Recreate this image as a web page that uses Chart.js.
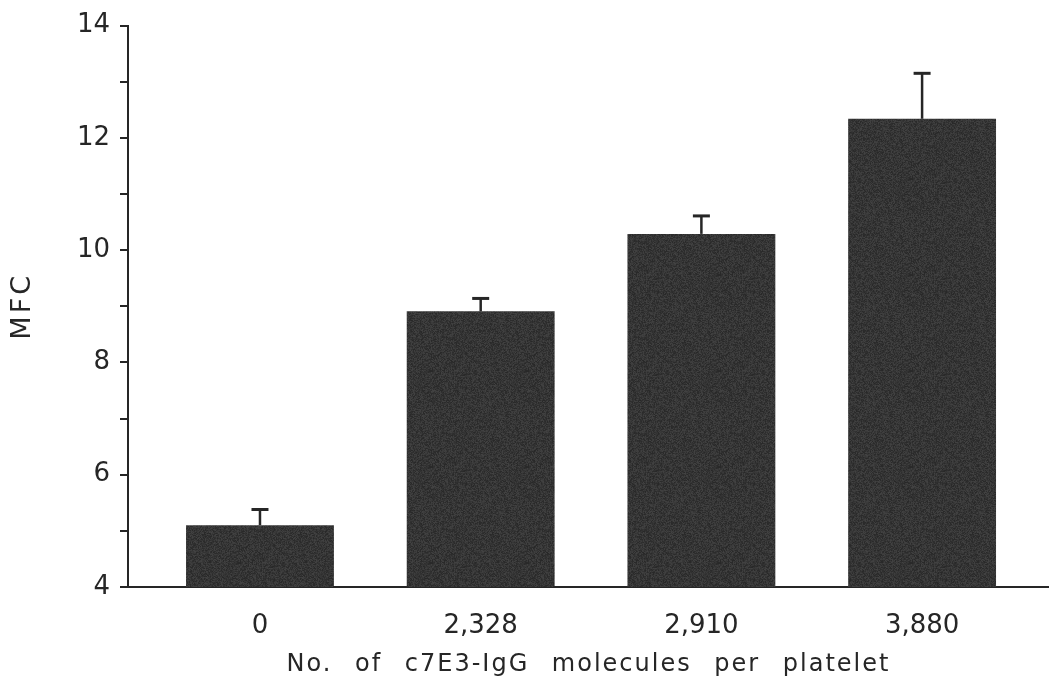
<!DOCTYPE html>
<html><head><meta charset="utf-8">
<script src="https://cdn.jsdelivr.net/npm/chart.js@4"></script>
<style>html,body{margin:0;padding:0;background:#fff;} #wrap{width:1049px;height:681px;position:relative;}</style>
</head><body><div id="wrap"><canvas id="c"></canvas></div>
<script>
const categories = ['0', '2,328', '2,910', '3,880'];
const meanMFC = [5.10, 8.91, 10.29, 12.34];
const errorMFC = [0.28, 0.23, 0.32, 0.81];
const yTickLabels = [4, 6, 8, 10, 12, 14];
const xTitle = 'No. of c7E3-IgG molecules per platelet';
const yTitle = 'MFC';

const FONT = '"DejaVu Sans", sans-serif';
const INK = '#262626';

// speckled dark fill (deterministic texture, style only)
function makeTexture() {
  const c = document.createElement('canvas');
  c.width = 96; c.height = 96;
  const g = c.getContext('2d');
  const img = g.createImageData(96, 96);
  for (let i = 0; i < 96 * 96; i++) {
    const h = Math.sin(i * 12.9898 + (i % 96) * 78.233) * 43758.5453;
    const f = h - Math.floor(h);
    const v = Math.round(40 + f * 26);
    img.data[i * 4] = v; img.data[i * 4 + 1] = v; img.data[i * 4 + 2] = v; img.data[i * 4 + 3] = 255;
  }
  g.putImageData(img, 0, 0);
  return g.createPattern(c, 'repeat');
}
const barFill = makeTexture();

function spacedTitle(letter, word) {
  return s => {
    if (s._spaced) return;
    const orig = s.drawTitle.bind(s);
    s.drawTitle = function (...a) {
      this.ctx.save();
      this.ctx.letterSpacing = letter;
      this.ctx.wordSpacing = word;
      orig(...a);
      this.ctx.restore();
    };
    s._spaced = true;
  };
}

const errorBars = {
  id: 'errorBars',
  afterDatasetsDraw(chart) {
    const ctx = chart.ctx;
    const ys = chart.scales.y;
    const meta = chart.getDatasetMeta(0);
    ctx.save();
    ctx.strokeStyle = INK;
    meta.data.forEach((bar, i) => {
      const top = ys.getPixelForValue(meanMFC[i] + errorMFC[i]);
      ctx.lineWidth = 2.5;
      ctx.beginPath();
      ctx.moveTo(bar.x, bar.y);
      ctx.lineTo(bar.x, top);
      ctx.stroke();
      ctx.lineWidth = 3;
      ctx.beginPath();
      ctx.moveTo(bar.x - 8.5, top);
      ctx.lineTo(bar.x + 8.5, top);
      ctx.stroke();
    });
    ctx.restore();
  }
};

new Chart(document.getElementById('c'), {
  type: 'bar',
  data: {
    datasets: [{
      data: meanMFC.map((v, i) => ({ x: i, y: v })),
      backgroundColor: barFill,
      borderWidth: 0,
      barPercentage: 0.67,
      categoryPercentage: 1.0
    }]
  },
  options: {
    responsive: true,
    maintainAspectRatio: false,
    animation: false,
    layout: { padding: { top: 21, right: 0, left: 0, bottom: 0 } },
    plugins: { legend: { display: false }, tooltip: { enabled: false } },
    scales: {
      x: {
        type: 'linear',
        offset: false,
        min: -0.598,
        max: 3.575,
        afterBuildTicks: s => { s.ticks = categories.map((_, i) => ({ value: i })); },
        afterFit: s => { s.height = 94; spacedTitle('2px', '13px')(s); },
        grid: { display: false, offset: false },
        border: { display: true, color: INK, width: 2 },
        ticks: {
          autoSkip: false,
          maxRotation: 0,
          padding: 16,
          color: INK,
          font: { family: FONT, size: 26 },
          callback: v => categories[v] ?? ''
        },
        title: {
          display: true,
          text: xTitle,
          color: INK,
          font: { family: FONT, size: 24 },
          padding: { top: 0, bottom: 2 }
        }
      },
      y: {
        min: 4,
        max: 14,
        afterFit: s => { s.width = 128; spacedTitle('3px', '0px')(s); },
        grid: { display: true, drawOnChartArea: false, drawTicks: true, tickLength: 8, color: INK, lineWidth: 2 },
        border: { display: true, color: INK, width: 2 },
        ticks: {
          stepSize: 1,
          padding: 10,
          color: INK,
          font: { family: FONT, size: 26 },
          callback: v => yTickLabels.includes(v) ? String(v) : ''
        },
        title: {
          display: true,
          text: yTitle,
          color: INK,
          font: { family: FONT, size: 27 },
          padding: { top: 7, bottom: 0 }
        }
      }
    }
  },
  plugins: [errorBars]
});
</script>
</body></html>
